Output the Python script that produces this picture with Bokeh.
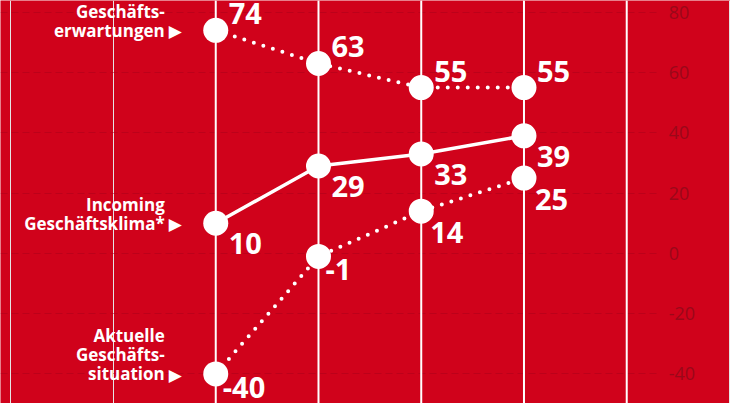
import numpy as np
from bokeh.plotting import figure
from bokeh.models import Range1d, Span, FixedTicker
from bokeh.embed import file_html
from bokeh.resources import INLINE
from bokeh.core.properties import value

# ---- data ----
columns = [1, 2, 3, 4, 5]
point_columns = [1, 2, 3, 4]
erwartungen = [74, 63, 55, 55]
klima = [10, 29, 33, 39]
situation = [-40, -1, 14, 25]
y_ticks = [-40, -20, 0, 20, 40, 60, 80]
y_tick_labels = ["-40", "-20", "0", "20", "40", "60", "80"]
label_erw = ["Geschäfts-", "erwartungen"]
label_klima = ["Incoming", "Geschäftsklima*"]
label_sit = ["Aktuelle", "Geschäfts-", "situation"]

RED = "#d0021b"
WHITE = "#ffffff"
TICK_RED = "#9a0819"

x_range = Range1d(-1.095, 6.01)
p = figure(width=730, height=403, output_backend="svg", toolbar_location=None,
           x_range=x_range, y_range=Range1d(-49.8, 83.9),
           x_axis_location=None, y_axis_location="right",
           min_border_left=0, min_border_top=0, min_border_bottom=0,
           min_border_right=0,
           background_fill_color=RED, border_fill_color=RED)
p.outline_line_color = None
p.yaxis.ticker = FixedTicker(ticks=y_ticks)
p.yaxis.visible = False
grid = p.ygrid[0]
grid.grid_line_color = "#a8001a"
grid.grid_line_alpha = 0.5
grid.grid_line_dash = "7 4"
grid.grid_line_width = 1
if "cross_bounds" in grid.properties():
    grid.cross_bounds = (x_range.start, columns[-1] + 0.3)

# y tick labels on the right, placed through the y scale
p.text([columns[-1]] * len(y_ticks), y_ticks, text=y_tick_labels,
       x_offset=42, text_baseline="middle", text_align="left",
       text_font=value("Open Sans"), text_font_size="18px", text_color=TICK_RED)

# vertical white column lines
for c in columns:
    p.add_layout(Span(location=c, dimension="height", line_color=WHITE, line_width=2))

# lines
p.line(point_columns, erwartungen, line_color=WHITE, line_width=4,
       line_dash="0 10", line_cap="round")
p.line(point_columns, situation, line_color=WHITE, line_width=4,
       line_dash="0 10", line_cap="round")
p.line(point_columns, klima, line_color=WHITE, line_width=3.5)

# points
for vals in (erwartungen, klima, situation):
    p.scatter(point_columns, vals, size=25, fill_color=WHITE, line_color=None)

font = value("Open Sans")

# value labels
p.text(point_columns, erwartungen, text=[str(v) for v in erwartungen],
       x_offset=13, y_offset=-6, text_baseline="bottom", text_align="left",
       text_font=font, text_font_style="bold", text_font_size="29px", text_color=WHITE)
p.text(point_columns, klima, text=[str(v) for v in klima],
       x_offset=13, y_offset=10, text_baseline="top", text_align="left",
       text_font=font, text_font_style="bold", text_font_size="29px", text_color=WHITE)
p.text(point_columns, situation, text=[str(v) for v in situation],
       x_offset=[7, 7, 9, 11], y_offset=[3, 3, 11, 11], text_baseline="top", text_align="left",
       text_font=font, text_font_style="bold", text_font_size="29px", text_color=WHITE)

# series labels on the left
for lines, vals in ((label_erw, erwartungen), (label_klima, klima), (label_sit, situation)):
    n = len(lines)
    for i, t in enumerate(lines):
        p.text([columns[0]], [vals[0]], text=[t], x_offset=-51, y_offset=-(n - 1 - i) * 19,
               text_baseline="middle", text_align="right",
               text_font=font, text_font_style="bold", text_font_size="17px",
               text_color=WHITE)
    p.text([columns[0]], [vals[0]], text=["▶"], x_offset=-34, y_offset=1,
           text_baseline="middle", text_align="right",
           text_font=value("DejaVu Sans"), text_font_size="17px", text_color=WHITE)

open("out.html", "w").write(file_html(p, INLINE))
